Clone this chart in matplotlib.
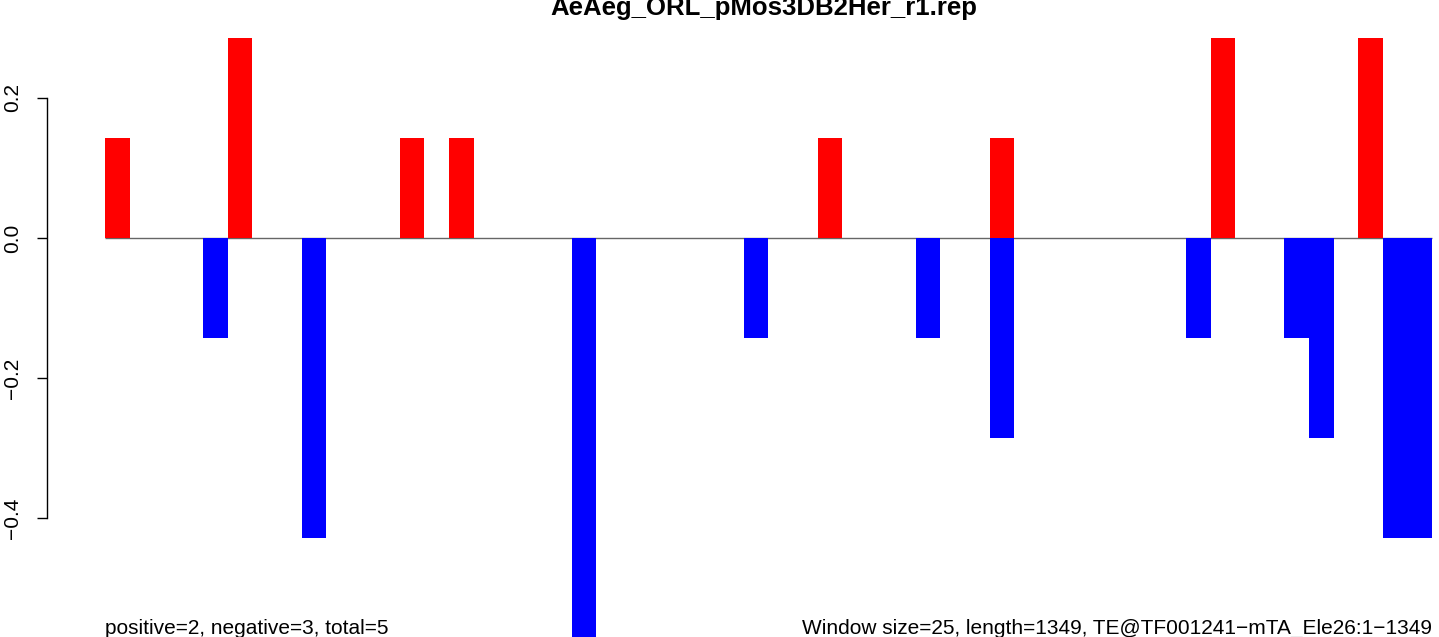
import matplotlib
matplotlib.use("Agg")
import matplotlib.pyplot as plt

plt.rcParams['font.family'] = ['Liberation Sans', 'DejaVu Sans']

title = "AeAeg_ORL_pMos3DB2Her_r1.rep"
left_note = "positive=2, negative=3, total=5"
right_note = "Window size=25, length=1349, TE@TF001241\u2212mTA_Ele26:1\u22121349"

# one value per 25 bp window (54 windows)
a, b, c, d = 0.1429, 0.2857, 0.4286, 0.5714
positive = [a, 0, 0, 0, 0, b, 0, 0, 0, 0,
            0, 0, a, 0, a, 0, 0, 0, 0, 0,
            0, 0, 0, 0, 0, 0, 0, 0, 0, a,
            0, 0, 0, 0, 0, 0, a, 0, 0, 0,
            0, 0, 0, 0, 0, b, 0, 0, 0, 0,
            0, b, 0, 0]
negative = [0, 0, 0, 0, -a, 0, 0, 0, -c, 0,
            0, 0, 0, 0, 0, 0, 0, 0, 0, -d,
            0, 0, 0, 0, 0, 0, -a, 0, 0, 0,
            0, 0, 0, -a, 0, 0, -b, 0, 0, 0,
            0, 0, 0, 0, -a, 0, 0, 0, -a, -b,
            0, 0, -c, -c]
yticks = [-0.4, -0.2, 0.0, 0.2]
ytick_labels = ["\u22120.4", "\u22120.2", "0.0", "0.2"]

W, H = 1439, 637
fig = plt.figure(figsize=(W / 100, H / 100), dpi=100)
ax_l, ax_r, ax_t, ax_b = 47, 1439, 38, 638
ax = fig.add_axes([ax_l / W, 1 - ax_b / H, (ax_r - ax_l) / W, (ax_b - ax_t) / H])

n = len(positive)
slot = 24.57
x = list(range(n))
ax.set_xlim(-(105 - ax_l) / slot, (ax_r - 105) / slot)
ax.set_ylim(-d, b)

ax.hlines(0, 0, n, color='#666666', lw=1.0, zorder=1)
ax.bar(x, positive, width=1.0, align='edge', color='#ff0000', lw=0, zorder=2)
ax.bar(x, negative, width=1.0, align='edge', color='#0000ff', lw=0, zorder=2)

for s in ['top', 'right', 'bottom']:
    ax.spines[s].set_visible(False)
ax.spines['left'].set_bounds(-0.4, 0.2)
ax.spines['left'].set_linewidth(1.0)
ax.set_xticks([])
ax.set_yticks(yticks)
ax.set_yticklabels(ytick_labels, rotation=90, va='center', fontsize=15)
ax.tick_params(axis='y', length=7, width=1.0, pad=11)

fig.text(764 / W, 1 - 15 / H, title, ha='center', va='baseline',
         fontsize=18.5, fontweight='bold')
fig.text(105 / W, 1 - 634 / H, left_note, ha='left', va='baseline', fontsize=15)
fig.text(1432 / W, 1 - 634 / H, right_note, ha='right', va='baseline', fontsize=15)

fig.savefig("out.png", dpi=100)
